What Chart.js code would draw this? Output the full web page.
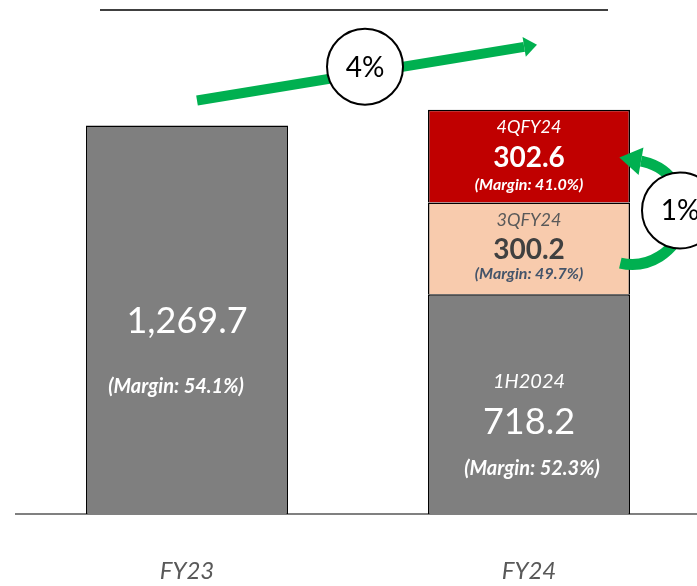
<!DOCTYPE html>
<html>
<head>
<meta charset="utf-8">
<script src="https://cdn.jsdelivr.net/npm/chart.js@4"></script>
<style>
  body { margin: 0; background: #fff; }
  #wrap { width: 697px; height: 586px; overflow: hidden; position: relative; }
</style>
</head>
<body>
<div id="wrap"><canvas id="c" width="700" height="628"></canvas></div>
<script>
// values
const categories = ['FY23', 'FY24'];
const baseValues = [1269.7, 718.2];
const q3Values = [null, 300.2];
const q4Values = [null, 302.6];
const baseNames = ['', '1H2024'];
const baseMargins = ['54.1%', '52.3%'];
const q3Name = '3QFY24';
const q4Name = '4QFY24';
const q3Margins = [null, '49.7%'];
const q4Margins = [null, '41.0%'];
const yoyGrowth = '4%';
const qoqGrowth = '1%';

const FONT = 'Lato, "Open Sans", sans-serif';
const GREEN = '#00B050';

function fmt(v) {
  return v.toLocaleString('en-US', {minimumFractionDigits: 1, maximumFractionDigits: 1});
};

function txt(ctx, s, x, y, font, color) {
  ctx.font = font;
  ctx.fillStyle = color;
  ctx.textAlign = 'center';
  ctx.textBaseline = 'middle';
  ctx.fillText(s, x, y);
};

function circle(ctx, x, y, r, label) {
  ctx.beginPath();
  ctx.arc(x, y, r, 0, Math.PI * 2);
  ctx.fillStyle = '#fff';
  ctx.fill();
  ctx.lineWidth = 2;
  ctx.strokeStyle = '#000';
  ctx.stroke();
  txt(ctx, label, x, y + 1, '28px ' + FONT, '#000');
};

function arrowHead(ctx, bx, by, dx, dy, len, half) {
  // bx,by = base centre, dx,dy = unit direction
  ctx.beginPath();
  ctx.moveTo(bx + dx * len, by + dy * len);
  ctx.lineTo(bx - dy * half, by + dx * half);
  ctx.lineTo(bx + dy * half, by - dx * half);
  ctx.closePath();
  ctx.fillStyle = GREEN;
  ctx.fill();
};

const labelPlugin = {
  id: 'labels',
  afterDatasetsDraw(chart) {
    const ctx = chart.ctx;
    const m0 = chart.getDatasetMeta(0);
    const m1 = chart.getDatasetMeta(1);
    const m2 = chart.getDatasetMeta(2);
    ctx.save();
    for (let i = 0; i < categories.length; i++) {
      let el = m0.data[i];
      let top = el.y, mid = (el.y + el.base) / 2;
      if (baseNames[i] == '') {
        txt(ctx, fmt(baseValues[i]), el.x, mid + 2, '36px ' + FONT, '#fff');
        txt(ctx, '(Margin: ' + baseMargins[i] + ')', el.x - 11, mid + 67, 'italic bold 20px ' + FONT, '#fff');
      } else {
        txt(ctx, baseNames[i], el.x, top + 87, 'italic 20px ' + FONT, '#fff');
        txt(ctx, fmt(baseValues[i]), el.x, top + 128, '36px ' + FONT, '#fff');
        txt(ctx, '(Margin: ' + baseMargins[i] + ')', el.x + 3, top + 174, 'italic bold 20px ' + FONT, '#fff');
      };
      if (q3Values[i] != null) {
        el = m1.data[i];
        mid = (el.y + el.base) / 2;
        txt(ctx, q3Name, el.x, mid - 28, 'italic 18px ' + FONT, '#595959');
        txt(ctx, fmt(q3Values[i]), el.x, mid + 2, 'bold 28px ' + FONT, '#404040');
        txt(ctx, '(Margin: ' + q3Margins[i] + ')', el.x, mid + 26, 'italic bold 16px ' + FONT, '#44546A');
      };
      if (q4Values[i] != null) {
        el = m2.data[i];
        mid = (el.y + el.base) / 2;
        txt(ctx, q4Name, el.x, mid - 29, 'italic 18px ' + FONT, '#fff');
        txt(ctx, fmt(q4Values[i]), el.x, mid + 2, 'bold 28px ' + FONT, '#fff');
        txt(ctx, '(Margin: ' + q4Margins[i] + ')', el.x, mid + 29, 'italic bold 16px ' + FONT, '#fff');
      };
    };
    ctx.restore();
  },
  afterDraw(chart) {
    const ctx = chart.ctx;
    const xs = chart.scales.x, ys = chart.scales.y;
    ctx.save();

    // thin rule at the top
    ctx.beginPath();
    ctx.moveTo(100, 10);
    ctx.lineTo(608, 10);
    ctx.lineWidth = 1.5;
    ctx.strokeStyle = '#000';
    ctx.stroke();

    // year-on-year arrow
    let tot0 = baseValues[0] + (q3Values[0] || 0) + (q4Values[0] || 0);
    let tot1 = baseValues[1] + (q3Values[1] || 0) + (q4Values[1] || 0);
    let x0 = xs.getPixelForValue(0) + 10, y0 = ys.getPixelForValue(tot0) - 25;
    let x1 = xs.getPixelForValue(1) + 8, y1 = ys.getPixelForValue(tot1) - 65;
    let d = Math.hypot(x1 - x0, y1 - y0);
    let ux = (x1 - x0) / d, uy = (y1 - y0) / d;
    let head = 13;
    ctx.beginPath();
    ctx.moveTo(x0, y0);
    ctx.lineTo(x1 - ux * head, y1 - uy * head);
    ctx.lineWidth = 10;
    ctx.lineCap = 'butt';
    ctx.strokeStyle = GREEN;
    ctx.stroke();
    arrowHead(ctx, x1 - ux * head, y1 - uy * head, ux, uy, head, 10);
    circle(ctx, (x0 + x1) / 2 - 2, (y0 + y1) / 2 - 6, 38, yoyGrowth);

    // quarter-on-quarter curved arrow
    const el = chart.getDatasetMeta(2).data[1];
    const right = el.x + el.width / 2;
    const bnd = el.base;
    const cx = right + 2, cy = bnd + 10, r = 52;
    const a0 = 103 * Math.PI / 180, a1 = -80 * Math.PI / 180;
    ctx.beginPath();
    ctx.arc(cx, cy, r, a0, a1, true);
    ctx.lineWidth = 11;
    ctx.strokeStyle = GREEN;
    ctx.stroke();
    let bx = cx + r * Math.cos(a1), by = cy + r * Math.sin(a1);
    arrowHead(ctx, bx, by, Math.sin(a1), -Math.cos(a1), 22, 14);
    circle(ctx, right + 50, bnd + 8, 38, qoqGrowth);

    ctx.restore();
  }
};

const barOpts = {
  barPercentage: 0.5906,
  categoryPercentage: 1,
  borderColor: '#000',
  borderWidth: 1.5
};

new Chart(document.getElementById('c'), {
  type: 'bar',
  data: {
    labels: categories,
    datasets: [
      Object.assign({label: 'base', data: baseValues, backgroundColor: '#7F7F7F'}, barOpts),
      Object.assign({label: q3Name, data: q3Values, backgroundColor: '#F8CBAD'}, barOpts),
      Object.assign({label: q4Name, data: q4Values, backgroundColor: '#C00000'}, barOpts)
    ]
  },
  options: {
    responsive: false,
    animation: false,
    layout: { padding: { left: 16, right: 0, top: 0, bottom: 0 } },
    plugins: { legend: { display: false }, tooltip: { enabled: false } },
    scales: {
      x: {
        stacked: true,
        offset: true,
        grid: { display: false, drawTicks: false },
        border: { display: true, color: '#808080', width: 2 },
        ticks: { padding: 42.6, color: '#595959', font: { family: FONT, size: 24, style: 'italic' } }
      },
      y: { stacked: true, display: false, min: 0, max: 1680 }
    }
  },
  plugins: [labelPlugin]
});
</script>
</body>
</html>
